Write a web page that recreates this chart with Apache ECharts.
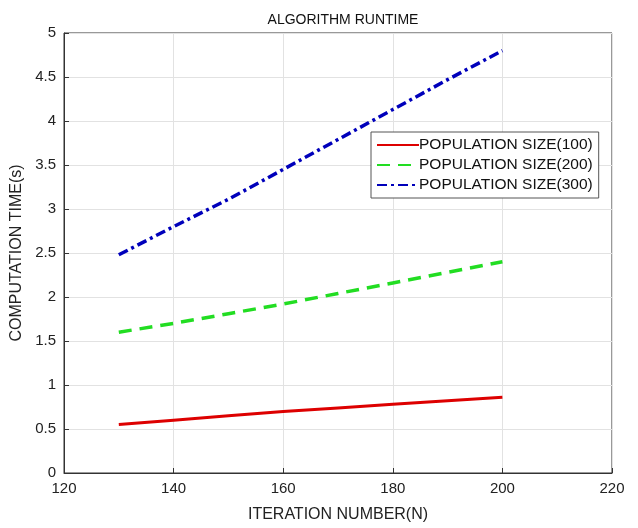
<!DOCTYPE html>
<html>
<head>
<meta charset="utf-8">
<script src="https://cdn.jsdelivr.net/npm/echarts@6/dist/echarts.min.js"></script>
<style>
  html, body { margin: 0; padding: 0; background: #fff; }
  #chart { width: 638px; height: 528px; }
</style>
</head>
<body>
<div id="chart"></div>
<script>
// iteration number (x)
const iterations = [130, 140, 150, 160, 170, 180, 190, 200]
// computation time (s) for each population size
const pop100 = [0.55, 0.60, 0.65, 0.70, 0.74, 0.78, 0.82, 0.86]
const pop200 = [1.60, 1.70, 1.81, 1.92, 2.04, 2.16, 2.28, 2.40]
const pop300 = [2.48, 2.80, 3.11, 3.45, 3.79, 4.13, 4.47, 4.80]
const seriesNames = ['POPULATION SIZE(100)', 'POPULATION SIZE(200)', 'POPULATION SIZE(300)']

const pairs = ys => iterations.map((x, i) => [x, ys[i]])

const chart = echarts.init(document.getElementById('chart'))
const font = 'Liberation Sans, Arial, sans-serif'

chart.setOption({
  animation: false,
  textStyle: { fontFamily: font },
  title: {
    text: 'ALGORITHM RUNTIME',
    left: 338,
    textAlign: 'center',
    top: 8,
    textStyle: { fontFamily: font, fontSize: 14, fontWeight: 'normal', color: '#111' }
  },
  grid: {
    left: 64,
    right: 26,
    top: 33,
    bottom: 53,
    show: true,
    borderColor: '#333',
    borderWidth: 1
  },
  legend: {
    orient: 'vertical',
    left: 371,
    top: 132,
    itemWidth: 42,
    itemHeight: 12,
    itemGap: 4,
    padding: [5, 6, 5, 5],
    backgroundColor: '#fff',
    borderColor: '#555',
    borderWidth: 1,
    itemStyle: { opacity: 0 },
    textStyle: { fontFamily: font, fontSize: 15.5, color: '#111', padding: [0, 0, 0, -5] },
    data: seriesNames
  },
  xAxis: {
    type: 'value',
    min: 120,
    max: 220,
    interval: 20,
    name: 'ITERATION NUMBER(N)',
    nameLocation: 'middle',
    nameGap: 34,
    nameTextStyle: { fontFamily: font, fontSize: 16, color: '#222' },
    axisLine: { lineStyle: { color: '#333' } },
    axisTick: { inside: true, length: 5, lineStyle: { color: '#333' } },
    axisLabel: { fontFamily: font, fontSize: 15, color: '#222', margin: 8 },
    splitLine: { show: true, lineStyle: { color: '#e2e2e2' } }
  },
  yAxis: {
    type: 'value',
    min: 0,
    max: 5,
    interval: 0.5,
    name: 'COMPUTATION TIME(s)',
    nameLocation: 'middle',
    nameGap: 38,
    nameTextStyle: { fontFamily: font, fontSize: 16, color: '#222' },
    axisLine: { show: true, lineStyle: { color: '#333' } },
    axisTick: { show: true, inside: true, length: 5, lineStyle: { color: '#333' } },
    axisLabel: { fontFamily: font, fontSize: 15, color: '#222', margin: 8 },
    splitLine: { show: true, lineStyle: { color: '#e2e2e2' } }
  },
  series: [
    {
      name: seriesNames[0],
      type: 'line',
      symbol: 'none',
      data: pairs(pop100),
      lineStyle: { color: '#dd0000', width: 3, type: 'solid' },
      itemStyle: { color: '#dd0000' }
    },
    {
      name: seriesNames[1],
      type: 'line',
      symbol: 'none',
      data: pairs(pop200),
      lineStyle: { color: '#22dd22', width: 3.5, type: [13, 8] },
      itemStyle: { color: '#22dd22' }
    },
    {
      name: seriesNames[2],
      type: 'line',
      symbol: 'none',
      data: pairs(pop300),
      lineStyle: { color: '#0000bb', width: 3.5, type: [10, 4, 3, 4] },
      itemStyle: { color: '#0000bb' }
    }
  ]
})
</script>
</body>
</html>
